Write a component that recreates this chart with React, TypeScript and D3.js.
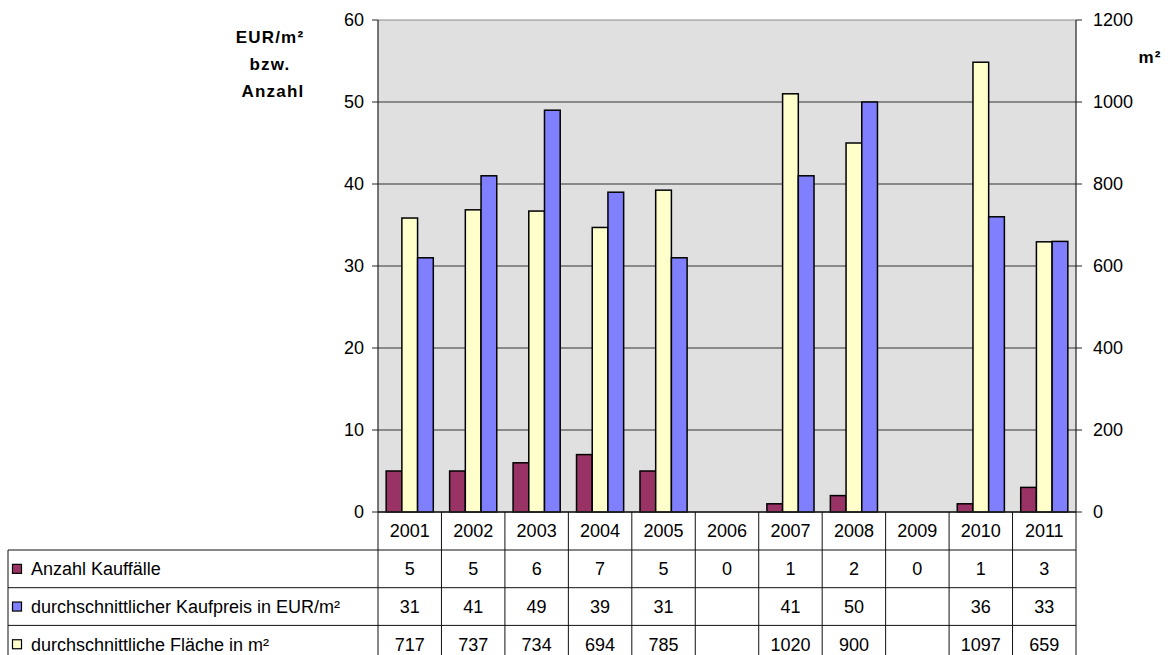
import React from 'react';
import * as d3 from 'd3';

const years = ['2001', '2002', '2003', '2004', '2005', '2006', '2007', '2008', '2009', '2010', '2011'];
const anzahl: (number | null)[] = [5, 5, 6, 7, 5, 0, 1, 2, 0, 1, 3];
const kaufpreis: (number | null)[] = [31, 41, 49, 39, 31, null, 41, 50, null, 36, 33];
const flaeche: (number | null)[] = [717, 737, 734, 694, 785, null, 1020, 900, null, 1097, 659];
const leftTicks = [0, 10, 20, 30, 40, 50, 60];
const rightTicks = [0, 200, 400, 600, 800, 1000, 1200];
const seriesNames = ['Anzahl Kauffälle', 'durchschnittlicher Kaufpreis in EUR/m²', 'durchschnittliche Fläche in m²'];
const seriesColors = ['#993366', '#8080ff', '#ffffcc'];

const W = 1170;
const H = 655;
const plot = { left: 378, right: 1076, top: 20, bottom: 512 };
const rowH = 37.7;
const font = '"Liberation Sans", Arial, sans-serif';
const numSize = 18;

export default function App() {
  const x = d3.scaleBand<string>().domain(years).range([plot.left, plot.right]);
  const inner = d3
    .scaleBand<string>()
    .domain(['anzahl', 'flaeche', 'kaufpreis'])
    .range([0, x.bandwidth()])
    .paddingInner(0)
    .paddingOuter(0.52);
  const yL = d3.scaleLinear().domain([0, 60]).range([plot.bottom, plot.top]);
  const yR = d3.scaleLinear().domain([0, 1200]).range([plot.bottom, plot.top]);

  const series = [
    { key: 'anzahl', values: anzahl, y: yL, color: seriesColors[0] },
    { key: 'flaeche', values: flaeche, y: yR, color: seriesColors[2] },
    { key: 'kaufpreis', values: kaufpreis, y: yL, color: seriesColors[1] },
  ];

  const tableRows = [
    { name: seriesNames[0], color: seriesColors[0], values: anzahl },
    { name: seriesNames[1], color: seriesColors[1], values: kaufpreis },
    { name: seriesNames[2], color: seriesColors[2], values: flaeche },
  ];

  const headerBottom = plot.bottom + 38;
  const rowTop = (i: number) => headerBottom + i * rowH;
  const boundaries = years.map((y) => x(y)!).concat([plot.right]);

  return (
    <svg
      width={W}
      height={H}
      style={{ position: 'absolute', left: 0, top: 0, background: '#fff' }}
      fontFamily={font}
    >
      {/* plot background */}
      <rect x={plot.left} y={plot.top} width={plot.right - plot.left} height={plot.bottom - plot.top} fill="#e0e0e0" />

      {/* gridlines */}
      {leftTicks.map((t) => (
        <line
          key={'g' + t}
          x1={plot.left}
          x2={plot.right}
          y1={yL(t)}
          y2={yL(t)}
          stroke={t === 60 ? '#888' : '#333'}
          strokeWidth={1}
        />
      ))}

      {/* bars */}
      {series.map((s) =>
        s.values.map((v, i) =>
          v == null || v === 0 ? null : (
            <rect
              key={s.key + i}
              x={x(years[i])! + inner(s.key)!}
              y={s.y(v)}
              width={inner.bandwidth()}
              height={plot.bottom - s.y(v)}
              fill={s.color}
              stroke="#000"
              strokeWidth={1.5}
            />
          )
        )
      )}

      {/* axes */}
      <line x1={plot.left} x2={plot.left} y1={plot.top} y2={plot.bottom} stroke="#222" strokeWidth={1.2} />
      <line x1={plot.right} x2={plot.right} y1={plot.top} y2={plot.bottom} stroke="#222" strokeWidth={1.2} />
      <line x1={plot.left} x2={plot.right} y1={plot.bottom} y2={plot.bottom} stroke="#222" strokeWidth={1.5} />

      {leftTicks.map((t) => (
        <g key={'l' + t}>
          <line x1={plot.left - 6} x2={plot.left} y1={yL(t)} y2={yL(t)} stroke="#222" />
          <text x={plot.left - 14} y={yL(t)} dy="0.36em" textAnchor="end" fontSize={numSize}>
            {t}
          </text>
        </g>
      ))}
      {rightTicks.map((t) => (
        <g key={'r' + t}>
          <line x1={plot.right} x2={plot.right + 6} y1={yR(t)} y2={yR(t)} stroke="#222" />
          <text x={plot.right + 17} y={yR(t)} dy="0.36em" textAnchor="start" fontSize={numSize}>
            {t}
          </text>
        </g>
      ))}

      {/* axis titles */}
      <g fontWeight="bold" fontSize={17} textAnchor="middle" letterSpacing={1.2}>
        <text x={270} y={43}>EUR/m²</text>
        <text x={270} y={70}>bzw.</text>
        <text x={273} y={97}>Anzahl</text>
        <text x={1150} y={63}>m²</text>
      </g>

      {/* data table */}
      <g stroke="#111" strokeWidth={1}>
        {boundaries.map((b, i) => (
          <line key={'v' + i} x1={b} x2={b} y1={plot.bottom} y2={H} />
        ))}
        <line x1={8} x2={8} y1={headerBottom} y2={H} />
        {[0, 1, 2].map((r) => (
          <line key={'h' + r} x1={8} x2={plot.right} y1={rowTop(r)} y2={rowTop(r)} />
        ))}
      </g>

      {years.map((y) => (
        <text
          key={'y' + y}
          x={x(y)! + x.bandwidth() / 2}
          y={(plot.bottom + headerBottom) / 2}
          dy="0.36em"
          textAnchor="middle"
          fontSize={numSize}
        >
          {y}
        </text>
      ))}

      {tableRows.map((row, r) => (
        <g key={'row' + r}>
          <rect x={12.5} y={rowTop(r) + rowH / 2 - 4.5} width={9} height={9} fill={row.color} stroke="#000" strokeWidth={1.2} />
          <text x={31} y={rowTop(r) + rowH / 2} dy="0.36em" fontSize={18}>
            {row.name}
          </text>
          {row.values.map((v, i) =>
            v == null ? null : (
              <text
                key={i}
                x={x(years[i])! + x.bandwidth() / 2}
                y={rowTop(r) + rowH / 2}
                dy="0.36em"
                textAnchor="middle"
                fontSize={numSize}
              >
                {v}
              </text>
            )
          )}
        </g>
      ))}
    </svg>
  );
}
